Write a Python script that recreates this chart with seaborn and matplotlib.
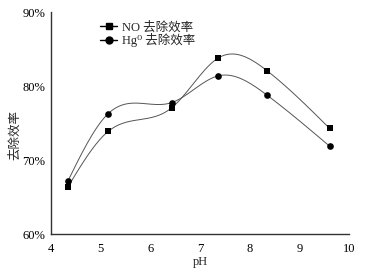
import numpy as np
import pandas as pd
import matplotlib
matplotlib.use("Agg")
import matplotlib.pyplot as plt
from matplotlib.lines import Line2D
import seaborn as sns

ph = [4.34, 5.15, 6.43, 7.36, 8.35, 9.61]
no_eff = [66.4, 73.9, 77.1, 83.8, 82.1, 74.3]
hg_eff = [67.2, 76.3, 77.8, 81.4, 78.8, 71.9]
xticks = [4, 5, 6, 7, 8, 9, 10]
yticks = [60, 70, 80, 90]
ytick_labels = ["60%", "70%", "80%", "90%"]

sns.set_theme(style="white")
plt.rcParams['font.family'] = ['Liberation Serif', 'DejaVu Serif', 'Noto Sans CJK SC']


def natural_spline(x, y, n=300):
    x = np.asarray(x, float); y = np.asarray(y, float)
    k = len(x); h = np.diff(x)
    A = np.zeros((k, k)); b = np.zeros(k)
    A[0, 0] = A[-1, -1] = 1
    for i in range(1, k - 1):
        A[i, i - 1] = h[i - 1]; A[i, i] = 2 * (h[i - 1] + h[i]); A[i, i + 1] = h[i]
        b[i] = 6 * ((y[i + 1] - y[i]) / h[i] - (y[i] - y[i - 1]) / h[i - 1])
    M = np.linalg.solve(A, b)
    xs = np.linspace(x[0], x[-1], n)
    idx = np.clip(np.searchsorted(x, xs) - 1, 0, k - 2)
    x0, x1 = x[idx], x[idx + 1]; hh = x1 - x0
    ys = (M[idx] * (x1 - xs) ** 3 / (6 * hh) + M[idx + 1] * (xs - x0) ** 3 / (6 * hh)
          + (y[idx] / hh - M[idx] * hh / 6) * (x1 - xs) + (y[idx + 1] / hh - M[idx + 1] * hh / 6) * (xs - x0))
    return xs, ys


fig = plt.figure(figsize=(3.79, 2.72), dpi=100)
ax = fig.add_axes([0.1346, 0.1386, 0.7864, 0.8162])

for vals, marker, ms in [(no_eff, 's', 4.2), (hg_eff, 'o', 4.8)]:
    xs, ys = natural_spline(ph, vals)
    sns.lineplot(x=xs, y=ys, ax=ax, color='#555555', linewidth=0.7, sort=False)
    sns.scatterplot(x=ph, y=vals, ax=ax, marker=marker, s=ms ** 2, color='black',
                    edgecolor='black', linewidth=0, zorder=3)

ax.set_xlim(4, 10)
ax.set_ylim(60, 90)
ax.set_xticks(xticks)
ax.set_xticklabels([str(t) for t in xticks])
ax.set_yticks(yticks)
ax.set_yticklabels(ytick_labels)
ax.tick_params(direction='in', length=4, width=1, labelsize=9, colors='black', pad=4)
ax.tick_params(axis='x', pad=6)
for s in ['top', 'right']:
    ax.spines[s].set_visible(False)
for s in ['left', 'bottom']:
    ax.spines[s].set_color('#333333')
    ax.spines[s].set_linewidth(1.0)

ax.set_xlabel('pH', fontsize=9, labelpad=1)
ax.set_ylabel('去除效率', fontsize=9)
ax.yaxis.set_label_coords(-0.10, 0.446)

handles = [
    Line2D([0], [0], color='black', linewidth=1, marker='s', markersize=4.5),
    Line2D([0], [0], color='black', linewidth=1, marker='o', markersize=5),
]
labels = ['NO 去除效率', 'Hg\u2070 去除效率']
ax.legend(handles, labels, loc='upper left', bbox_to_anchor=(0.135, 1.0), frameon=False,
          fontsize=9, handlelength=1.4, handletextpad=0.4, labelspacing=0.0, borderaxespad=0.3)

fig.savefig('out.png', dpi=100, facecolor='white')
